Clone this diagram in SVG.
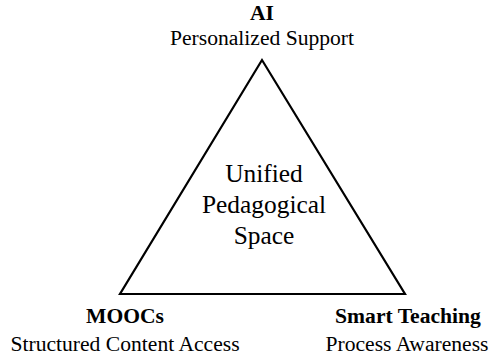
<svg xmlns="http://www.w3.org/2000/svg" width="495" height="358" viewBox="0 0 495 358">
<style>
text{font-family:"Liberation Serif","Times New Roman",serif;fill:#000;text-anchor:middle}
.t{font-weight:bold;font-size:21.6px}
.s{font-size:21.6px}
.c{font-size:25.4px}
</style>
<rect width="495" height="358" fill="#fff"/>
<g id="connectors">
<polygon points="262,60 120,294 405,294" fill="none" stroke="#000" stroke-width="2.2" stroke-linejoin="miter"/>
</g>
<g id="ai"><text class="t" x="262" y="20">AI</text><text class="s" x="262" y="45">Personalized Support</text></g>
<g id="moocs"><text class="t" x="125" y="323">MOOCs</text><text class="s" x="125" y="351">Structured Content Access</text></g>
<g id="smart"><text class="t" x="408" y="323">Smart Teaching</text><text class="s" x="407" y="351">Process Awareness</text></g>
<g id="center"><text class="c" x="264" y="182">Unified</text><text class="c" x="264" y="213">Pedagogical</text><text class="c" x="264" y="244">Space</text></g>
</svg>
